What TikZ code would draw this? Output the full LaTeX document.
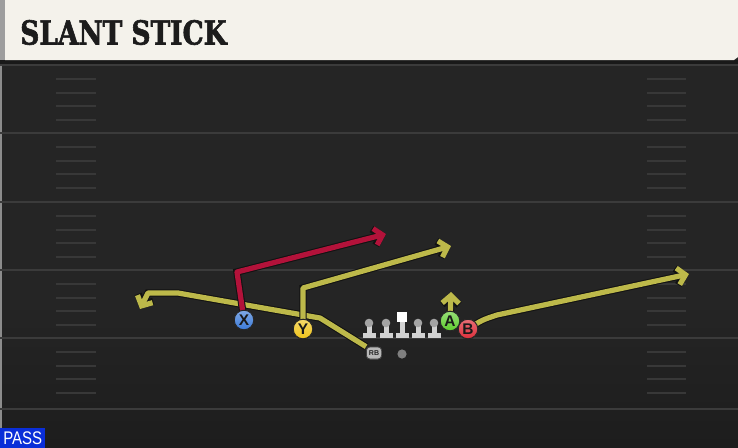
\documentclass[tikz,border=0pt]{standalone}
\usepackage{xcolor}
\usepackage{fontspec}
\setmainfont{Liberation Sans}
\newfontfamily\titlefont{DejaVu Serif}[UprightFont=* Bold, FakeStretch=0.8, FakeBold=1.8]
\newfontfamily\passfont{Liberation Sans}[FakeStretch=0.82]
\usetikzlibrary{arrows.meta}

\definecolor{fieldbg}{HTML}{252525}
\definecolor{fieldbot}{HTML}{1D1D1D}
\definecolor{yardline}{HTML}{3B3B3B}
\definecolor{hashcol}{HTML}{383838}
\definecolor{headercol}{HTML}{F4F2EB}
\definecolor{titlecol}{HTML}{1C1C1C}
\definecolor{routeyel}{HTML}{BDB94A}
\definecolor{routered}{HTML}{B3123A}
\definecolor{routeedge}{HTML}{121212}
\definecolor{passblue}{HTML}{0A2ED8}
\definecolor{xblue}{HTML}{3B7AD8}
\definecolor{yyellow}{HTML}{F0C419}
\definecolor{agreen}{HTML}{5FCD2E}
\definecolor{bred}{HTML}{DE2F3B}
\definecolor{linegray}{HTML}{D2D2D2}
\definecolor{headgray}{HTML}{A4A4A4}

\tikzset{
  route/.style={line width=3.7pt, line join=round,
    -{Straight Barb[length=5.5pt,width=12pt]},
    preaction={draw=routeedge, line width=5.2pt}},
  player/.style={circle, draw=black!85, line width=0.7pt, minimum size=0.49cm,
    inner sep=0pt, font=\bfseries\fontsize{11}{11}\selectfont, text=black!90},
  rbnode/.style={rounded corners=2.5pt, fill=black!28, draw=black!75, line width=0.5pt,
    minimum width=0.38cm, minimum height=0.3cm, inner sep=0pt,
    font=\bfseries\fontsize{5}{5}\selectfont, text=black!85},
  hash/.style={hashcol, line width=1.3pt},
}

\begin{document}
\begin{tikzpicture}[x=0.025cm,y=-0.025cm]
		\useasboundingbox (0,0) rectangle (738,448);
		% field
		\fill[fieldbg] (0,0) rectangle (738,448);
		\shade[top color=fieldbg, bottom color=fieldbot] (0,300) rectangle (738,448);
		\fill[black!45] (0,60) rectangle (2,448);
		\foreach \y in {65,133,202,270,338,409}
			\draw[yardline, line width=1.4pt] (0,\y) -- (738,\y);
		\foreach \b in {65,133,202,270,338}
			\foreach \k in {1,2,3,4} {
				\draw[hash] (56,\b+\k*13.8) -- (96,\b+\k*13.8);
				\draw[hash] (647,\b+\k*13.8) -- (686,\b+\k*13.8);
			}
		% header
		\fill[black!90] (0,60) rectangle (738,64);
		\fill[headercol] (5,0) -- (738,0) -- (738,57) -- (734,60) -- (5,60) -- cycle;
		\fill[black!38] (0,0) rectangle (5,60);
		\node[anchor=west, text=titlecol, inner sep=0pt,
			font=\titlefont\fontsize{23.5}{23.5}\selectfont] (title) at (20,32.5) {SLANT STICK};
		% players
		\node[player, top color=xblue!65!white, bottom color=xblue] (X) at (244,320) {X};
		\node[player, top color=yyellow!65!white, bottom color=yyellow] (Y) at (303,329) {Y};
		\node[player, top color=agreen!65!white, bottom color=agreen] (A) at (450,321) {A};
		\node[player, top color=bred!70!white, bottom color=bred] (B) at (468,329) {B};
		\node[rbnode] (RB) at (374,353) {RB};
		\node[circle, fill=black!50, minimum size=0.23cm, inner sep=0pt] (QB) at (402,354) {};
		% route points
		\coordinate (xturn) at (237,272);
		\coordinate (xend) at (386,234);
		\coordinate (yturn) at (303,288);
		\coordinate (yend) at (451,246);
		\coordinate (aend) at (451,292);
		\coordinate (bbend) at (497,315);
		\coordinate (bend) at (689,274);
		\coordinate (rbturn) at (320,318);
		\coordinate (rbleft) at (178,293);
		\coordinate (rbcorner) at (148,293);
		\coordinate (rbend) at (140,309);
		% routes
		\draw[route, routeyel] (RB.north west) -- (rbturn) -- (rbleft) -- (rbcorner) -- (rbend);
		\draw[route, routered] (X.center) -- (xturn) -- (xend);
		\draw[route, routeyel] (Y.center) -- (yturn) -- (yend);
		\draw[route, routeyel] (A.center) -- (aend);
		\draw[route, routeyel] (B.center) .. controls (482,320) .. (bbend) -- (bend);
		% players on top of routes
		\node[player, top color=xblue!65!white, bottom color=xblue] at (X) {X};
		\node[player, top color=yyellow!65!white, bottom color=yyellow] at (Y) {Y};
		\node[player, top color=agreen!65!white, bottom color=agreen] at (A) {A};
		\node[player, top color=bred!70!white, bottom color=bred] at (B) {B};
		\node[rbnode] at (RB) {RB};
		% line
		\foreach \lx in {369,386,418,434} {
			\fill[linegray] (\lx-2.5,323) rectangle (\lx+2.5,334);
			\fill[linegray] (\lx-6.5,333) rectangle (\lx+6.5,338);
			\fill[headgray] (\lx,323) circle (4.3);
		}
		\fill[linegray] (399.5,321) rectangle (404.5,334);
		\fill[linegray] (395.5,333) rectangle (408.5,338);
		\fill[white] (397,312) rectangle (407,322);
		% play type
		\node[fill=passblue, anchor=south west, text=white, inner sep=0pt,
			minimum width=1.125cm, minimum height=0.5cm,
			font=\passfont\fontsize{13}{13}\selectfont] (pass) at (0,448) {PASS};
	\end{tikzpicture}
\end{document}
